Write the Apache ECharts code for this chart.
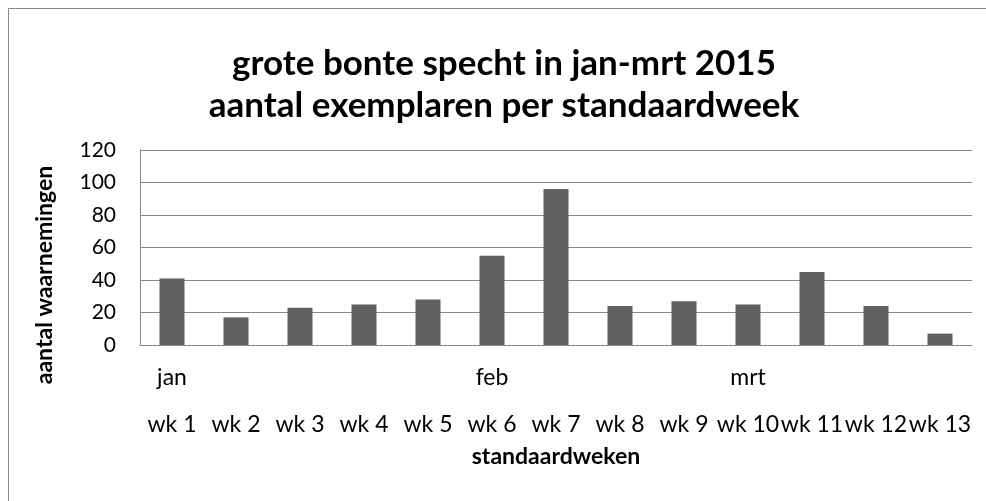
<!DOCTYPE html>
<html>
<head>
<meta charset="utf-8">
<script src="https://cdn.jsdelivr.net/npm/echarts@6/dist/echarts.min.js"></script>
<style>
html,body{margin:0;padding:0;background:#fff;}
#chart{width:986px;height:501px;}
</style>
</head>
<body>
<div id="chart"></div>
<script>
var weeks = ['wk 1','wk 2','wk 3','wk 4','wk 5','wk 6','wk 7','wk 8','wk 9','wk 10','wk 11','wk 12','wk 13'];
var months = ['jan','','','','','feb','','','','mrt','','',''];
var counts = [41, 17, 23, 25, 28, 55, 96, 24, 27, 25, 45, 24, 7];
var yTicks = {min: 0, max: 120, interval: 20};
var titleLines = ['grote bonte specht in jan-mrt 2015', 'aantal exemplaren per standaardweek'];

var FONT = 'Lato';
var chart = echarts.init(document.getElementById('chart'), null, {renderer: 'canvas'});
chart.setOption({
  backgroundColor: '#ffffff',
  animation: false,
  textStyle: {fontFamily: FONT},
  title: {
    text: titleLines.join('\n'),
    left: 499,
    textAlign: 'center',
    top: 38,
    textStyle: {fontFamily: FONT, fontSize: 35, fontWeight: 'bold', color: '#000', lineHeight: 42}
  },
  graphic: [{
    type: 'rect',
    shape: {x: 8.5, y: 8.5, width: 1000, height: 600},
    style: {fill: 'none', stroke: '#868686', lineWidth: 1},
    silent: true
  }],
  grid: {left: 140, right: 14, top: 150, bottom: 156},
  xAxis: [{
    type: 'category',
    data: weeks,
    position: 'bottom',
    axisLine: {show: true, lineStyle: {color: '#878787', width: 1}},
    axisTick: {show: false},
    axisLabel: {interval: 0, hideOverlap: false, margin: 68, color: '#000', fontFamily: FONT, fontSize: 23},
    name: 'standaardweken',
    nameLocation: 'middle',
    nameGap: 100,
    nameTextStyle: {color: '#000', fontFamily: FONT, fontSize: 23, fontWeight: 'bold'}
  }, {
    type: 'category',
    data: months,
    position: 'bottom',
    axisLine: {show: false},
    axisTick: {show: false},
    axisLabel: {interval: 0, margin: 21, color: '#000', fontFamily: FONT, fontSize: 23}
  }],
  yAxis: {
    type: 'value',
    min: yTicks.min, max: yTicks.max, interval: yTicks.interval,
    axisLine: {show: true, lineStyle: {color: '#878787', width: 1}},
    axisTick: {show: false},
    splitLine: {show: true, lineStyle: {color: '#878787', width: 1}},
    axisLabel: {margin: 24, color: '#000', fontFamily: FONT, fontSize: 21},
    name: 'aantal waarnemingen',
    nameLocation: 'middle',
    nameGap: 84,
    nameTextStyle: {color: '#000', fontFamily: FONT, fontSize: 23, fontWeight: 'bold', padding: [0, 55, 0, 0]}
  },
  series: [{
    type: 'bar',
    xAxisIndex: 0,
    data: counts,
    barWidth: 25,
    itemStyle: {color: '#606060'}
  }]
});
</script>
</body>
</html>
